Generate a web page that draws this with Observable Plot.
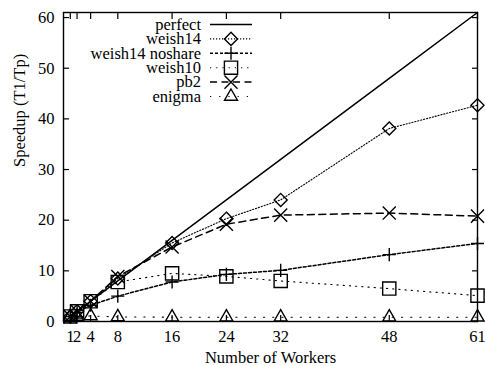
<!DOCTYPE html>
<html><head><meta charset="utf-8">
<script src="https://cdn.jsdelivr.net/npm/d3@7"></script>
<script src="https://cdn.jsdelivr.net/npm/@observablehq/plot@0.6"></script>
<style>body{margin:0;background:#fff}</style>
</head><body><div id="chart"></div>
<script>
const workers = [1, 2, 4, 8, 16, 24, 32, 48, 61];
const perfect = [1, 2, 4, 8, 16, 24, 32, 48, 61];
const weish14 = [1, 2, 4, 8.5, 15.5, 20.3, 24.0, 38.1, 42.7];
const weish14noshare = [1, 1.8, 3.2, 5.0, 7.8, 9.3, 10.1, 13.2, 15.4];
const weish10 = [1, 2, 4, 7.8, 9.5, 8.9, 8.0, 6.5, 5.1];
const pb2 = [1, 2, 4, 8.9, 14.7, 19.2, 21.0, 21.4, 20.8];
const enigma = [1, 1, 1.1, 0.9, 0.85, 0.85, 0.85, 0.85, 0.85];
const seriesNames = ["perfect", "weish14", "weish14 noshare", "weish10", "pb2", "enigma"];
const xTicks = [1, 2, 4, 8, 16, 24, 32, 48, 61];
const yTicks = [0, 10, 20, 30, 40, 50, 60];
const xLabel = "Number of Workers";
const yLabel = "Speedup (T1/Tp)";

const font = "'Liberation Serif', 'Times New Roman', 'DejaVu Serif', serif";
const fs = 16.5;

const styles = [
  {values: perfect, dash: null, sw: 1.5, symbol: null, r: 0},
  {values: weish14, dash: "1.2,1.8", sw: 1.1, symbol: "diamond2", r: 5.9},
  {values: weish14noshare, dash: "3,2", sw: 1.5, symbol: "plus", r: 4.3},
  {values: weish10, dash: "1.2,5", sw: 1.1, symbol: "square2", r: 8.4},
  {values: pb2, dash: "7,4.5", sw: 1.5, symbol: "times", r: 6.0},
  {values: enigma, dash: "1.2,8", sw: 1.1, symbol: "triangle2", r: 6.2}
];

const rows = (i) => workers.map((w, j) => ({x: w, y: styles[i].values[j], name: seriesNames[i]}));

const marks = [];
styles.forEach((s, i) => {
  marks.push(Plot.line(rows(i), {x: "x", y: "y", stroke: "black", strokeWidth: s.sw, strokeDasharray: s.dash}));
  if (s.symbol) marks.push(Plot.dot(rows(i), {x: "x", y: "y", symbol: s.symbol, r: s.r, stroke: "black", fill: "none", strokeWidth: 1.4}));
});

const chart = Plot.plot({
  width: 485, height: 366,
  marginLeft: 63, marginRight: 8, marginTop: 12, marginBottom: 45,
  style: {fontFamily: font, fontSize: fs + "px", background: "white", color: "black", overflow: "visible"},
  x: {domain: [0, 61]},
  y: {domain: [0, 61]},
  marks: [
    Plot.axisX({ticks: xTicks, tickSize: -6, tickPadding: 15, label: null, fontSize: fs, tickFormat: d => String(d), strokeWidth: 1.2}),
    Plot.axisX({anchor: "top", ticks: xTicks, tickSize: -6, label: null, tickFormat: () => "", strokeWidth: 1.2}),
    Plot.axisY({ticks: yTicks, tickSize: -6, tickPadding: 15, label: null, fontSize: fs, strokeWidth: 1.2}),
    Plot.axisY({anchor: "right", ticks: yTicks, tickSize: -6, label: null, tickFormat: () => "", strokeWidth: 1.2}),
    ...marks,
    Plot.frame({stroke: "black", strokeWidth: 1.4}),
    Plot.text([xLabel], {frameAnchor: "bottom", dy: 36.5, text: d => d, fontSize: fs, lineAnchor: "middle"}),
    Plot.text([yLabel], {frameAnchor: "left", dx: -44, rotate: -90, text: d => d, fontSize: fs, lineAnchor: "middle"})
  ]
});

// gnuplot-style key inside the frame
const svg = d3.select(chart);
const key = svg.append("g").attr("font-family", font).attr("font-size", fs);
const symMap = {diamond2: d3.symbolDiamond2, plus: d3.symbolPlus, square2: d3.symbolSquare2, times: d3.symbolTimes, triangle2: d3.symbolTriangle2};
seriesNames.forEach((name, i) => {
  const s = styles[i];
  const yy = 24.5 + i * 14.4;
  key.append("text").attr("x", 201).attr("y", yy).attr("dy", "0.32em").attr("text-anchor", "end").attr("fill", "black").text(name);
  key.append("line").attr("x1", 210).attr("x2", 252).attr("y1", yy).attr("y2", yy)
    .attr("stroke", "black").attr("stroke-width", s.sw).attr("stroke-dasharray", s.dash);
  if (s.symbol) key.append("path").attr("transform", `translate(231,${yy})`)
    .attr("d", d3.symbol(symMap[s.symbol], Math.PI * s.r * s.r)())
    .attr("fill", "none").attr("stroke", "black").attr("stroke-width", 1.4);
});

document.getElementById("chart").append(chart);
</script>
</body></html>
